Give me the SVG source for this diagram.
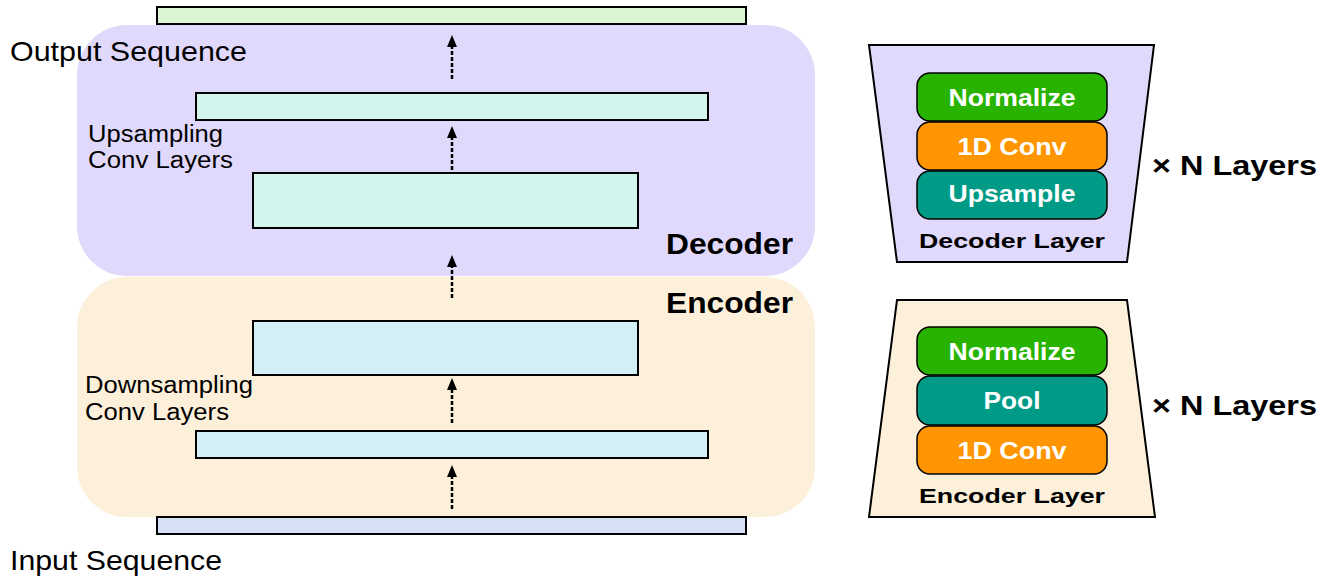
<svg xmlns="http://www.w3.org/2000/svg" width="1334" height="578" viewBox="0 0 1334 578">
<style>
.lbl{font-family:"Liberation Sans",Arial,sans-serif;fill:#000}
.bold{font-weight:bold}
.bar{stroke:#000;stroke-width:2}
.blk{stroke:#000;stroke-width:1.5}
.wt{font-family:"Liberation Sans",Arial,sans-serif;font-weight:bold;font-size:24px;fill:#fff;text-anchor:middle}
.arr{stroke:#000;stroke-width:2.5;stroke-dasharray:4,2;fill:none;marker-end:url(#ah)}
</style>
<defs>
<marker id="ah" markerWidth="12" markerHeight="10" refX="0" refY="5" orient="auto" markerUnits="userSpaceOnUse" viewBox="0 0 12 10">
<path d="M0,0 L12,5 L0,10 Z" fill="#000"/>
</marker>
</defs>
<rect width="1334" height="578" fill="#fff"/>
<g id="decoder-bg"><rect x="77" y="25" width="738" height="251" rx="50" fill="#e0d9fc"/></g>
<g id="encoder-bg"><rect x="77" y="277" width="738" height="240" rx="50" fill="#fdf0da"/></g>
<g id="output-seq"><rect class="bar" x="157" y="7" width="589" height="17" fill="#dcf6d5"/><text class="lbl" font-size="28" x="10" y="61" textLength="237" lengthAdjust="spacingAndGlyphs">Output Sequence</text></g>
<g id="dec-up1"><rect class="bar" x="196" y="93" width="512" height="27" fill="#d4f5ee"/></g>
<g id="dec-up2"><rect class="bar" x="253" y="173" width="385" height="55" fill="#d4f5ee"/></g>
<g id="dec-label"><text class="lbl" font-size="23" x="88" y="142" textLength="135" lengthAdjust="spacingAndGlyphs">Upsampling</text><text class="lbl" font-size="23" x="88" y="168" textLength="145" lengthAdjust="spacingAndGlyphs">Conv Layers</text><text class="lbl bold" font-size="29" x="666" y="254" textLength="127" lengthAdjust="spacingAndGlyphs">Decoder</text></g>
<g id="enc-down2"><rect class="bar" x="253" y="321" width="385" height="54" fill="#d4eef5"/></g>
<g id="enc-down1"><rect class="bar" x="196" y="431" width="512" height="27" fill="#d4eef5"/></g>
<g id="enc-label"><text class="lbl" font-size="23" x="85" y="393" textLength="168" lengthAdjust="spacingAndGlyphs">Downsampling</text><text class="lbl" font-size="23" x="85" y="420" textLength="144" lengthAdjust="spacingAndGlyphs">Conv Layers</text><text class="lbl bold" font-size="29" x="666" y="313" textLength="127" lengthAdjust="spacingAndGlyphs">Encoder</text></g>
<g id="input-seq"><rect class="bar" x="157" y="517" width="589" height="17" fill="#d5dff6"/><text class="lbl" font-size="28" x="10" y="570" textLength="212" lengthAdjust="spacingAndGlyphs">Input Sequence</text></g>
<g id="connectors">
<line class="arr" x1="452" y1="79" x2="452" y2="47"/>
<line class="arr" x1="452" y1="170" x2="452" y2="138"/>
<line class="arr" x1="452" y1="298" x2="452" y2="267"/>
<line class="arr" x1="452" y1="423" x2="452" y2="390"/>
<line class="arr" x1="452" y1="509" x2="452" y2="477"/>
</g>
<g id="decoder-layer">
<polygon points="869,45 1154,45 1127,262 897,262" fill="#e0d9fc" stroke="#000" stroke-width="2"/>
<rect class="blk" x="917" y="73" width="190" height="48" rx="13" fill="#28b300"/>
<text class="wt" x="1012" y="106" textLength="127" lengthAdjust="spacingAndGlyphs">Normalize</text>
<rect class="blk" x="917" y="122" width="190" height="48" rx="13" fill="#ff9500"/>
<text class="wt" x="1012" y="155" textLength="109" lengthAdjust="spacingAndGlyphs">1D Conv</text>
<rect class="blk" x="917" y="171" width="190" height="48" rx="13" fill="#009b86"/>
<text class="wt" x="1012" y="202" textLength="127" lengthAdjust="spacingAndGlyphs">Upsample</text>
<text class="lbl bold" font-size="21" x="1012" y="248" text-anchor="middle" textLength="186" lengthAdjust="spacingAndGlyphs">Decoder Layer</text>
</g>
<g id="decoder-n"><text class="lbl bold" font-size="28" x="1152" y="175" textLength="165" lengthAdjust="spacingAndGlyphs">× N Layers</text></g>
<g id="encoder-layer">
<polygon points="897,300 1127,300 1155,517 869,517" fill="#fdf0da" stroke="#000" stroke-width="2"/>
<rect class="blk" x="917" y="327" width="190" height="48" rx="13" fill="#28b300"/>
<text class="wt" x="1012" y="360" textLength="127" lengthAdjust="spacingAndGlyphs">Normalize</text>
<rect class="blk" x="917" y="376" width="190" height="49" rx="13" fill="#009b86"/>
<text class="wt" x="1012" y="409" textLength="57" lengthAdjust="spacingAndGlyphs">Pool</text>
<rect class="blk" x="917" y="426" width="190" height="48" rx="13" fill="#ff9500"/>
<text class="wt" x="1012" y="459" textLength="109" lengthAdjust="spacingAndGlyphs">1D Conv</text>
<text class="lbl bold" font-size="21" x="1012" y="503" text-anchor="middle" textLength="186" lengthAdjust="spacingAndGlyphs">Encoder Layer</text>
</g>
<g id="encoder-n"><text class="lbl bold" font-size="28" x="1152" y="415" textLength="165" lengthAdjust="spacingAndGlyphs">× N Layers</text></g>
</svg>
